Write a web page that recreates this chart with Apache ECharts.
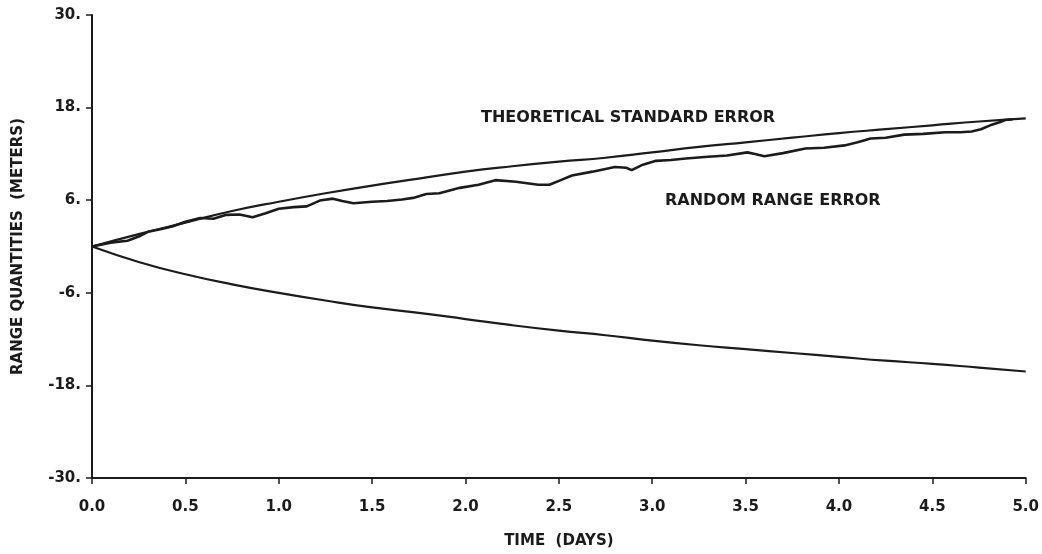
<!DOCTYPE html>
<html>
<head>
<meta charset="utf-8">
<script src="https://cdn.jsdelivr.net/npm/echarts@6/dist/echarts.min.js"></script>
<style>
  html, body { margin: 0; padding: 0; background: #fff; }
  #main { width: 1042px; height: 554px; }
</style>
</head>
<body>
<div id="main"></div>
<script>
// time steps (days) for the theoretical curves
const times = [0, 0.25, 0.5, 0.75, 1.0, 1.25, 1.5, 1.75, 2.0, 2.25, 2.5,
               2.75, 3.0, 3.25, 3.5, 3.75, 4.0, 4.25, 4.5, 4.75, 5.0]
const upperError = [0, 1.6, 3.1, 4.6, 5.8, 6.9, 7.9, 8.8, 9.7, 10.4, 11.0,
                    11.5, 12.2, 12.9, 13.5, 14.1, 14.7, 15.2, 15.7, 16.2, 16.6]
const lowerError = [0, -2.0, -3.6, -4.9, -6.0, -7.0, -7.9, -8.6, -9.4, -10.2, -10.9,
                    -11.5, -12.2, -12.8, -13.3, -13.8, -14.3, -14.8, -15.2, -15.7, -16.2]

// random range error trace
const randomTimes = [0, 0.1, 0.19, 0.25, 0.3, 0.36, 0.43, 0.5, 0.58, 0.65, 0.72, 0.79, 0.86, 0.93,
                     1.0, 1.08, 1.15, 1.22, 1.29, 1.34, 1.4, 1.5, 1.58, 1.66, 1.72, 1.79, 1.86, 1.97,
                     2.07, 2.16, 2.27, 2.33, 2.39, 2.45, 2.51, 2.57, 2.68, 2.8, 2.86, 2.89, 2.95,
                     3.02, 3.1, 3.18, 3.28, 3.4, 3.51, 3.55, 3.6, 3.7, 3.82, 3.92, 4.03, 4.1, 4.17,
                     4.25, 4.35, 4.45, 4.57, 4.65, 4.71, 4.76, 4.81, 4.86, 4.89, 4.93]
const randomError = [0, 0.5, 0.75, 1.3, 1.9, 2.2, 2.6, 3.2, 3.7, 3.6, 4.1, 4.15, 3.8, 4.3,
                     4.9, 5.1, 5.2, 5.95, 6.2, 5.9, 5.6, 5.8, 5.9, 6.1, 6.3, 6.8, 6.9, 7.6,
                     8.0, 8.6, 8.4, 8.2, 8.0, 8.0, 8.6, 9.2, 9.7, 10.3, 10.2, 9.9, 10.6,
                     11.1, 11.2, 11.4, 11.6, 11.8, 12.2, 12.0, 11.7, 12.1, 12.7, 12.8, 13.1, 13.5, 14.0,
                     14.1, 14.5, 14.6, 14.8, 14.8, 14.9, 15.2, 15.7, 16.1, 16.4, 16.5]

const yTicks = [-30, -18, -6, 6, 18, 30]

const ink = '#1b1b1b'
const font = "'DejaVu Sans', sans-serif"

const zip = (xs, ys) => xs.map((x, i) => [x, ys[i]])

const chart = echarts.init(document.querySelector('#main'))

chart.setOption({
    animation: false,
    backgroundColor: '#fff',
    grid: { left: 92, right: 14, top: 15, bottom: 72 },
    xAxis: {
        type: 'value',
        min: 0,
        max: 5,
        interval: 0.5,
        name: 'TIME  (DAYS)',
        nameLocation: 'middle',
        nameGap: 56,
        nameTextStyle: { color: ink, fontFamily: font, fontWeight: 'bold', fontSize: 15 },
        axisLine: { show: true, onZero: false, lineStyle: { color: ink, width: 2 } },
        axisTick: { show: true, inside: false, length: 6, lineStyle: { color: ink, width: 1.5 } },
        axisLabel: {
            color: ink, fontFamily: font, fontWeight: 'bold', fontSize: 15, margin: 22,
            formatter: v => v.toFixed(1)
        },
        splitLine: { show: false }
    },
    yAxis: {
        type: 'value',
        min: yTicks[0],
        max: yTicks[yTicks.length - 1],
        interval: 12,
        name: 'RANGE QUANTITIES  (METERS)',
        nameLocation: 'middle',
        nameGap: 66,
        nameRotate: 90,
        nameTextStyle: { color: ink, fontFamily: font, fontWeight: 'bold', fontSize: 15 },
        axisLine: { show: true, lineStyle: { color: ink, width: 2 } },
        axisTick: { show: true, inside: false, length: 6, lineStyle: { color: ink, width: 1.5 } },
        axisLabel: {
            color: ink, fontFamily: font, fontWeight: 'bold', fontSize: 15, margin: 11,
            formatter: v => `${v}.`
        },
        splitLine: { show: false }
    },
    series: [
        {
            name: 'upper',
            type: 'line',
            data: zip(times, upperError),
            smooth: true,
            showSymbol: false,
            lineStyle: { color: ink, width: 2.2 }
        },
        {
            name: 'lower',
            type: 'line',
            data: zip(times, lowerError),
            smooth: true,
            showSymbol: false,
            lineStyle: { color: ink, width: 2.2 }
        },
        {
            name: 'random',
            type: 'line',
            data: zip(randomTimes, randomError),
            showSymbol: false,
            lineStyle: { color: ink, width: 2.6 }
        }
    ],
    graphic: [
        {
            type: 'text',
            left: 481,
            top: 110,
            style: {
                text: 'THEORETICAL STANDARD ERROR',
                fill: ink,
                font: `bold 16px ${font}`
            }
        },
        {
            type: 'text',
            left: 665,
            top: 193,
            style: {
                text: 'RANDOM RANGE ERROR',
                fill: ink,
                font: `bold 16px ${font}`
            }
        }
    ]
})
</script>
</body>
</html>
